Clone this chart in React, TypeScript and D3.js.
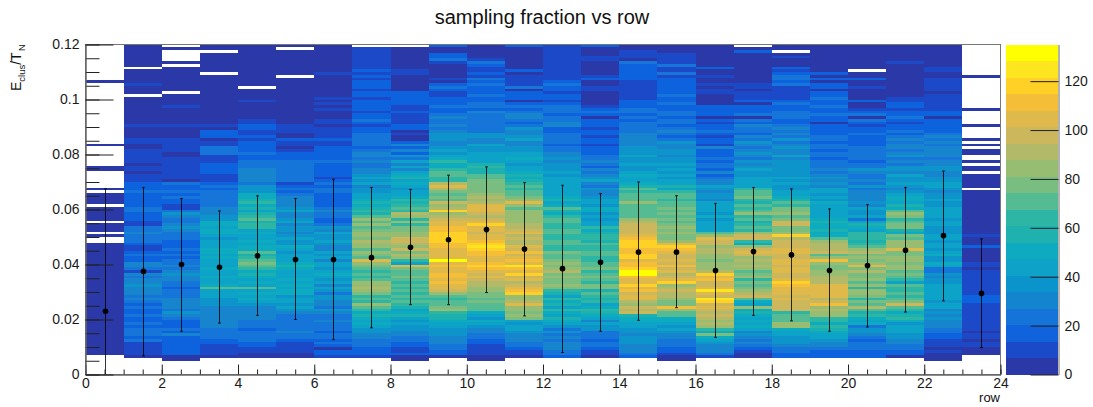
import React, { useEffect, useRef } from 'react';
import * as d3 from 'd3';

// counts per y bin (bottom to top, 0.001 wide), one list per x bin, 0 = empty
const row0 = [0,0,0,0,0,0,0,3,3,3,3,3,3,3,3,3,3,3,3,3,
  3,3,3,3,3,3,3,3,3,3,3,3,3,3,3,3,3,3,3,3,
  3,3,3,3,3,3,3,3,0,0,3,0,3,3,3,0,3,3,3,3,
  3,0,3,3,3,3,0,3,0,0,0,0,0,0,3,3,0,0,0,0,
  0,0,0,3,0,0,0,0,0,0,0,0,0,0,0,0,0,0,0,0,
  0,0,0,0,0,0,3,0,0,0,0,0,0,0,0,0,0,0,0,0];
const row1 = [0,0,0,0,0,0,3,10,10,10,10,10,24,17,24,24,24,17,24,17,
  17,24,17,17,24,17,24,30,24,30,30,30,37,30,30,24,30,10,24,30,
  30,17,17,24,17,10,10,17,24,24,24,30,24,24,10,10,17,17,17,24,
  24,17,17,17,17,17,24,17,17,17,10,10,10,3,10,10,3,10,10,10,
  10,10,3,3,10,10,3,3,3,3,10,3,3,3,3,3,3,3,3,3,
  3,0,3,3,3,10,3,3,3,3,3,0,3,3,3,3,3,3,3,3];
const row2 = [0,0,0,0,0,3,3,17,17,17,17,17,17,17,30,17,24,17,17,17,
  24,30,37,24,30,30,30,30,24,24,24,17,24,24,30,30,37,30,24,30,
  24,24,17,24,17,24,17,17,17,24,24,24,30,37,30,24,24,30,37,24,
  10,10,17,17,24,17,24,17,17,24,3,10,10,10,10,10,10,10,10,3,
  3,10,10,10,10,10,3,3,3,3,10,3,3,3,3,3,3,10,3,3,
  3,3,0,3,3,3,3,3,3,3,3,3,0,3,0,0,0,0,3,0];
const row3 = [0,0,0,0,0,0,3,10,10,10,10,17,17,24,24,24,24,30,30,30,
  30,30,30,30,30,37,37,37,44,44,44,71,51,44,44,51,44,44,51,44,
  44,44,51,44,51,51,44,44,44,37,44,51,51,44,51,51,37,37,30,30,
  30,24,24,24,24,24,24,17,24,17,10,10,10,17,17,17,17,10,10,10,
  24,24,24,10,10,3,17,17,17,3,10,3,3,3,3,3,3,3,3,3,
  3,3,3,3,3,3,3,3,3,0,3,3,3,3,3,3,3,0,3,3];
const row4 = [0,0,0,0,0,0,3,3,10,10,17,17,24,24,24,24,17,24,24,24,
  30,30,30,30,30,37,44,51,44,51,44,71,44,51,44,51,57,51,64,71,
  78,71,64,57,71,51,51,44,51,44,44,51,44,64,64,57,71,64,57,44,
  57,51,64,57,51,51,37,37,37,24,30,30,30,30,30,24,24,24,17,17,
  24,17,17,17,17,10,17,10,10,17,17,10,10,3,3,3,3,3,3,10,
  3,3,3,3,0,3,3,3,3,3,3,3,3,3,3,3,3,3,3,3];
const row5 = [0,0,0,0,0,0,3,3,10,10,10,10,17,24,24,30,24,24,24,24,
  24,24,30,37,44,37,44,44,37,51,51,44,51,44,51,44,44,44,51,57,
  51,44,44,44,37,44,51,37,37,44,37,30,37,37,30,44,37,30,30,44,
  37,30,30,30,30,24,17,24,17,10,24,24,24,24,24,24,24,24,17,17,
  17,10,3,10,10,17,3,3,10,10,10,3,3,3,3,3,3,3,3,3,
  3,3,3,3,3,3,3,3,0,3,3,3,3,3,3,3,3,3,0,3];
const row6 = [0,0,0,0,0,0,10,17,17,3,17,24,17,24,24,17,24,24,24,30,
  24,24,30,37,24,30,30,37,37,24,37,44,30,44,37,44,51,44,37,44,
  44,30,44,37,44,30,30,37,44,37,37,44,30,37,24,17,17,24,24,30,
  24,17,17,17,17,17,24,24,17,24,17,10,17,17,17,17,17,24,17,17,
  17,17,17,10,10,17,10,10,10,10,3,10,10,3,3,3,10,3,10,3,
  10,3,3,3,3,3,3,3,3,10,3,3,3,3,3,3,3,3,3,3];
const row7 = [0,0,0,0,0,0,10,17,17,17,24,24,24,30,30,37,37,44,51,44,
  51,57,51,64,71,84,64,71,64,78,84,91,84,84,71,64,71,64,71,78,
  84,105,71,78,84,71,84,84,91,78,84,84,78,71,84,71,84,71,57,64,
  57,51,57,51,44,44,37,37,30,44,37,44,37,30,30,24,24,30,24,30,
  30,24,17,24,24,24,24,24,17,17,10,17,24,17,17,10,17,17,17,17,
  10,17,17,10,17,17,17,10,17,10,17,10,10,10,10,10,10,10,10,0];
const row8 = [0,0,0,0,0,3,3,17,10,10,17,17,24,24,30,30,37,37,44,37,
  44,57,51,44,57,64,71,64,71,64,71,64,71,64,71,78,71,71,78,105,
  44,64,84,91,78,98,84,91,98,98,84,84,78,78,64,84,64,84,91,64,
  71,64,57,64,51,44,44,37,44,51,44,57,51,44,30,44,30,44,24,37,
  17,30,17,30,17,3,3,10,3,17,17,10,10,10,10,17,10,10,17,17,
  17,17,17,3,3,3,3,3,3,10,10,3,3,3,3,3,3,3,3,0];
const row9 = [0,0,0,0,0,0,3,17,17,24,24,30,30,30,37,37,37,44,44,51,
  57,57,64,84,78,71,71,64,71,84,98,105,105,111,105,111,111,105,105,111,
  105,132,105,105,105,105,111,111,118,118,118,118,111,111,105,105,98,91,84,118,
  91,84,98,71,78,71,78,91,105,91,64,64,71,71,64,51,51,64,51,44,
  37,44,37,30,30,37,37,37,30,24,30,24,24,30,24,17,17,24,17,17,
  17,10,10,17,24,17,3,10,3,3,3,3,3,10,24,17,17,3,3,17];
const row10 = [0,0,0,0,0,3,3,10,10,10,10,17,17,24,24,30,30,37,44,51,
  37,44,51,71,71,71,78,71,78,78,84,84,91,91,98,105,98,105,111,118,
  111,105,105,111,111,118,125,118,111,105,105,98,105,105,118,105,98,91,98,105,
  105,105,91,84,91,84,78,78,78,78,78,71,71,57,57,64,57,44,44,44,
  44,37,37,44,30,30,37,37,24,24,24,24,24,24,24,30,17,24,24,17,
  17,24,17,17,17,24,17,24,10,17,10,10,17,24,10,3,3,3,3,3];
const row11 = [0,0,0,0,0,0,3,10,10,17,24,24,30,30,30,37,44,44,37,44,
  78,84,78,84,84,105,91,84,84,118,111,105,98,91,105,98,118,105,111,125,
  105,111,105,98,111,98,105,91,91,98,91,105,98,91,91,84,84,84,84,84,
  71,84,105,84,78,71,71,64,71,64,57,51,57,51,44,44,37,44,51,44,
  44,37,37,30,30,44,37,30,30,37,24,17,24,30,30,24,17,24,17,3,
  17,17,17,3,24,10,10,10,10,3,17,3,3,3,3,3,3,3,3,17];
const row12 = [0,0,0,0,0,0,17,24,24,30,30,30,24,30,24,37,24,37,44,51,
  57,44,51,64,44,57,51,64,44,57,64,78,84,78,78,84,78,91,84,78,
  84,78,71,71,78,64,64,71,71,64,64,71,71,64,64,71,71,64,51,57,
  71,51,44,57,51,44,44,44,44,44,44,44,37,44,37,37,37,30,37,30,
  30,24,24,17,24,24,24,24,17,17,30,30,24,24,17,24,24,24,17,10,
  17,17,10,17,17,24,17,10,10,10,10,10,10,10,10,10,10,10,10,10];
const row13 = [0,0,0,0,0,0,3,10,10,17,24,24,17,24,24,24,37,37,44,30,
  44,51,57,64,51,44,64,57,64,71,57,78,78,64,71,78,71,64,78,71,
  71,64,64,71,71,64,64,71,57,64,64,57,51,64,44,44,37,44,37,51,
  51,37,44,44,37,30,30,37,24,30,44,37,30,24,30,17,24,30,24,24,
  17,17,17,10,17,17,10,17,17,10,17,17,17,3,17,24,17,10,3,3,
  3,3,3,10,10,3,3,17,10,3,3,3,3,3,10,10,3,3,3,17];
const row14 = [0,0,0,0,0,0,17,24,30,30,30,37,37,37,30,37,37,44,44,51,
  51,57,98,91,98,84,91,105,105,98,111,105,118,105,105,111,132,132,118,111,
  111,105,118,118,111,111,118,118,118,111,105,98,98,98,98,91,84,71,71,71,
  71,71,84,71,71,71,64,71,57,51,44,44,51,44,37,37,44,37,37,44,
  37,37,37,30,30,30,30,30,24,24,24,24,17,24,17,24,24,17,17,17,
  10,10,10,10,10,10,10,17,17,17,17,17,17,24,3,10,10,10,3,3];
const row15 = [0,0,0,0,0,3,3,10,17,17,24,24,24,30,30,37,44,37,44,51,
  51,71,71,84,111,78,78,84,91,91,98,91,84,118,105,98,91,105,98,111,
  98,105,98,98,105,111,118,105,84,78,78,84,78,84,78,71,78,71,78,71,
  78,71,71,64,71,71,64,44,57,44,44,37,44,37,44,37,44,37,37,30,
  37,37,30,30,37,24,17,24,30,24,17,24,24,17,24,24,17,17,24,17,
  17,24,17,17,17,17,17,17,10,24,10,10,24,10,10,10,10,3,3,3];
const row16 = [0,0,0,0,0,0,10,24,30,30,30,37,44,51,78,51,64,84,91,84,
  91,98,91,98,105,98,118,125,98,105,125,105,98,98,111,105,118,91,84,84,
  84,78,84,84,91,91,84,98,98,105,84,71,44,44,44,44,37,51,37,44,
  44,44,44,30,37,37,30,37,44,30,30,24,17,30,17,24,24,17,24,17,
  17,17,30,10,17,17,10,17,24,17,17,10,17,3,17,17,17,17,3,3,
  3,3,10,10,3,10,3,3,10,3,3,17,3,3,3,3,3,3,3,3];
const row17 = [0,0,0,0,0,0,3,3,10,17,24,30,24,30,37,30,44,51,44,51,
  44,51,57,51,84,44,51,71,98,91,84,78,71,78,64,84,78,71,84,91,
  84,91,84,98,105,98,84,51,64,98,98,84,64,71,64,57,71,64,84,71,
  64,71,57,64,78,71,71,64,44,44,44,44,37,37,44,37,30,37,24,30,
  37,30,24,30,37,24,30,17,24,24,30,17,24,3,24,17,17,17,3,17,
  10,10,10,3,10,10,3,3,3,3,3,3,3,3,3,3,3,17,3,0];
const row18 = [0,0,0,0,0,0,17,17,24,24,30,37,37,37,44,44,51,84,84,71,
  71,71,64,98,98,98,98,105,98,105,105,105,111,118,105,98,98,105,105,98,
  105,105,98,98,105,105,98,98,98,91,118,84,78,78,98,98,78,71,84,78,
  78,64,71,57,51,44,44,37,37,44,37,44,37,37,37,37,37,37,30,44,
  30,30,37,30,24,37,24,30,24,30,24,17,17,24,24,24,17,17,24,17,
  10,10,10,10,10,24,17,24,24,17,10,17,3,3,3,10,3,0,3,3];
const row19 = [0,0,0,0,0,0,17,17,17,24,30,30,37,44,44,51,57,64,51,64,
  64,84,84,91,84,111,98,91,105,105,105,105,105,91,91,91,84,84,78,78,
  84,111,84,71,98,91,91,91,84,71,51,51,57,51,51,57,51,44,44,44,
  44,44,51,37,44,37,44,44,30,37,30,37,30,24,30,24,24,24,17,24,
  24,17,24,24,17,24,24,17,17,17,17,3,17,17,24,17,17,24,17,17,
  24,17,17,3,17,17,3,17,3,17,3,3,3,3,3,3,3,3,3,3];
const row20 = [0,0,0,0,0,0,17,17,17,24,24,24,17,24,30,37,37,24,51,44,
  51,64,57,71,91,71,78,64,78,84,84,64,84,71,84,78,78,91,78,105,
  84,78,84,78,91,84,71,64,57,64,64,64,44,51,57,44,24,44,37,37,
  44,30,37,30,30,30,30,24,37,24,30,24,24,30,37,24,24,17,24,24,
  24,24,24,17,17,17,17,24,17,17,10,17,24,3,24,17,10,3,3,17,
  3,3,3,3,10,3,3,17,3,3,0,3,3,3,3,3,3,3,3,3];
const row21 = [0,0,0,0,0,0,3,17,17,24,24,30,30,37,37,44,44,44,37,51,
  64,57,51,64,71,98,78,71,64,71,64,64,71,44,64,71,78,71,84,84,
  78,84,84,78,78,105,84,84,84,71,78,51,57,78,78,71,64,78,84,71,
  51,57,44,51,51,44,37,30,37,44,37,37,44,30,37,37,24,30,24,37,
  30,24,30,30,24,30,24,17,24,17,17,10,17,24,17,17,10,17,17,10,
  10,3,3,3,3,3,3,3,3,3,3,3,3,10,3,3,3,3,3,3];
const row22 = [0,0,0,0,0,3,3,3,10,3,10,10,10,17,17,24,24,30,30,30,
  37,30,37,30,44,44,37,44,44,44,44,44,44,37,37,30,37,24,24,44,
  51,37,37,51,44,37,44,44,37,44,44,37,37,37,44,44,37,44,44,44,
  44,37,37,44,37,37,30,37,44,44,37,37,30,30,37,37,30,30,24,30,
  30,30,30,24,30,24,30,24,17,17,17,17,17,3,17,17,10,10,10,10,
  10,10,3,10,10,10,10,10,3,3,10,10,3,3,3,3,3,3,3,3];
const row23 = [0,0,0,0,0,0,0,3,3,3,10,10,3,10,10,3,10,10,10,10,
  10,10,10,10,10,10,17,17,17,10,10,10,10,10,10,10,10,10,3,10,
  10,3,3,3,3,3,17,3,3,3,10,3,3,3,3,3,3,3,3,3,
  3,3,3,3,3,3,3,0,3,3,3,3,3,0,3,3,0,3,0,0,
  3,3,0,3,0,3,0,0,0,0,3,0,0,0,0,0,3,0,0,0,
  0,0,0,0,0,0,0,0,3,0,0,0,0,0,0,0,0,0,0,0];

const columns = [row0, row1, row2, row3, row4, row5, row6, row7, row8, row9, row10, row11,
  row12, row13, row14, row15, row16, row17, row18, row19, row20, row21, row22, row23];

// profile points, one per x bin
const means = [0.023, 0.0375, 0.04, 0.039, 0.0432, 0.0418, 0.0418, 0.0425, 0.0463, 0.049, 0.0527, 0.0456,
  0.0385, 0.0408, 0.0445, 0.0445, 0.0378, 0.0447, 0.0435, 0.0378, 0.0396, 0.0452, 0.0505, 0.0295];
const errTop = [0.0675, 0.068, 0.064, 0.0595, 0.065, 0.064, 0.071, 0.068, 0.0673, 0.0725, 0.0755, 0.0698,
  0.0688, 0.0658, 0.07, 0.065, 0.0622, 0.068, 0.0675, 0.0602, 0.0618, 0.068, 0.074, 0.0493];
const errBottom = [0, 0.0068, 0.0157, 0.0187, 0.0215, 0.02, 0.0127, 0.017, 0.0254, 0.0254, 0.0298, 0.0213,
  0.008, 0.0157, 0.0197, 0.0243, 0.0135, 0.0215, 0.0195, 0.0157, 0.0173, 0.0227, 0.0268, 0.0098];

const palette = ['#2a38a8', '#1a4ac8', '#1163dd', '#1474d8', '#1385ce', '#0a94cb', '#0ea2c8', '#0eabc0',
  '#1fb1ae', '#2eb6a4', '#55bb92', '#79bd80', '#97bd72', '#b2ba6a', '#ccb75c', '#e0b94c',
  '#f5be38', '#ffd026', '#fde51f', '#ffff00'];

const xTicks = d3.range(0, 25, 2);
const xMinor = d3.range(0, 24.5, 0.5);
const yTicks = [0, 0.02, 0.04, 0.06, 0.08, 0.1, 0.12];
const yMinor = d3.range(0, 0.1201, 0.005);
const zTicks = [0, 20, 40, 60, 80, 100, 120];
const zMax = 135;
const binWidth = 0.001;

const font = '"Liberation Sans", Arial, sans-serif';

export default function App() {
  const ref = useRef<SVGSVGElement>(null);

  useEffect(() => {
    const svg = d3.select(ref.current);
    svg.selectAll('*').remove();

    const x = d3.scaleLinear().domain([0, 24]).range([85.5, 1000.5]);
    const y = d3.scaleLinear().domain([0, 0.12]).range([374.5, 44.5]);
    const zY = d3.scaleLinear().domain([0, zMax]).range([374.5, 44.5]);
    const color = d3.scaleQuantize<string>().domain([0, zMax]).range(palette);

    // reference is a downscaled bitmap, so soften the cells a little
    svg.append('defs').append('filter').attr('id', 'soft')
      .attr('x', 0).attr('y', 0).attr('width', 1).attr('height', 1)
      .append('feGaussianBlur').attr('stdDeviation', 0.45);

    // heat map
    const cells = svg.append('g').attr('shape-rendering', 'crispEdges').attr('filter', 'url(#soft)');
    columns.forEach((col, i) => {
      cells.append('g')
        .selectAll('rect')
        .data(col.map((v, b) => ({ v, b })).filter(d => d.v > 0))
        .enter()
        .append('rect')
        .attr('x', x(i))
        .attr('width', x(i + 1) - x(i))
        .attr('y', d => y((d.b + 1) * binWidth))
        .attr('height', d => y(d.b * binWidth) - y((d.b + 1) * binWidth))
        .attr('fill', d => color(d.v));
    });

    // frame
    svg.append('rect')
      .attr('x', x(0)).attr('y', y(0.12))
      .attr('width', x(24) - x(0)).attr('height', y(0) - y(0.12))
      .attr('fill', 'none').attr('stroke', '#777');

    // profile
    const pts = svg.append('g');
    means.forEach((m, i) => {
      const cx = Math.round(x(i + 0.5)) + 0.5;
      pts.append('line').attr('x1', cx).attr('x2', cx)
        .attr('y1', y(errTop[i])).attr('y2', y(errBottom[i]))
        .attr('stroke', '#000').attr('stroke-opacity', 0.8);
      [errTop[i], errBottom[i]].forEach(e => {
        pts.append('line').attr('x1', cx - 1.5).attr('x2', cx + 1.5)
          .attr('y1', y(e)).attr('y2', y(e))
          .attr('stroke', '#000').attr('stroke-opacity', 0.8);
      });
      pts.append('circle').attr('cx', cx).attr('cy', y(m)).attr('r', 2.8).attr('fill', '#000');
    });

    // axes
    const styleAxis = (g: any) => {
      g.attr('font-family', font).attr('font-size', 14);
      g.selectAll('text').attr('fill', '#1a1a1a');
      g.selectAll('line').attr('stroke', '#222');
      g.select('.domain').attr('stroke', '#666');
    };

    svg.append('g').attr('transform', `translate(0,${y(0)})`)
      .call(d3.axisBottom(x).tickValues(xMinor).tickSizeInner(-5).tickSizeOuter(0).tickFormat(() => ''))
      .call(styleAxis);
    svg.append('g').attr('transform', `translate(0,${y(0)})`)
      .call(d3.axisBottom(x).tickValues(xTicks).tickSizeInner(-10).tickSizeOuter(0).tickPadding(4).tickFormat(d3.format('d')))
      .call(styleAxis);

    svg.append('g').attr('transform', `translate(${x(0)},0)`)
      .call(d3.axisLeft(y).tickValues(yMinor).tickSizeInner(-14).tickSizeOuter(0).tickFormat(() => ''))
      .call(styleAxis);
    svg.append('g').attr('transform', `translate(${x(0)},0)`)
      .call(d3.axisLeft(y).tickValues(yTicks).tickSizeInner(-28).tickSizeOuter(0).tickPadding(6).tickFormat(d3.format('~g')))
      .call(styleAxis);

    // colour bar
    const step = zMax / palette.length;
    svg.append('g').attr('shape-rendering', 'crispEdges')
      .selectAll('rect')
      .data(palette)
      .enter()
      .append('rect')
      .attr('x', 1006)
      .attr('width', 52)
      .attr('y', (_, i) => zY((i + 1) * step))
      .attr('height', (_, i) => zY(i * step) - zY((i + 1) * step))
      .attr('fill', d => d);
    svg.append('g').attr('transform', 'translate(1058.5,0)')
      .call(d3.axisRight(zY).tickValues(zTicks).tickSizeInner(-28).tickSizeOuter(0).tickPadding(6))
      .call(styleAxis);

    // titles
    svg.append('text').attr('x', 542).attr('y', 24)
      .attr('text-anchor', 'middle').attr('font-family', font).attr('font-size', 20)
      .attr('fill', '#111').text('sampling fraction vs row');

    svg.append('text').attr('x', 1000).attr('y', 402)
      .attr('text-anchor', 'end').attr('font-family', font).attr('font-size', 13)
      .attr('fill', '#111').text('row');

    const yTitle = svg.append('text')
      .attr('transform', 'translate(21,44) rotate(-90)')
      .attr('text-anchor', 'end').attr('font-family', font).attr('font-size', 14)
      .attr('fill', '#111');
    yTitle.append('tspan').text('E');
    yTitle.append('tspan').attr('dy', 4).attr('font-size', 9.5).text('clus');
    yTitle.append('tspan').attr('dy', -4).text('/T');
    yTitle.append('tspan').attr('dy', 4).attr('dx', 1.5).attr('font-size', 9.5).text('N');
  }, []);

  return <svg ref={ref} width={1093} height={407} style={{ position: 'absolute', left: 0, top: 0 }} />;
}
